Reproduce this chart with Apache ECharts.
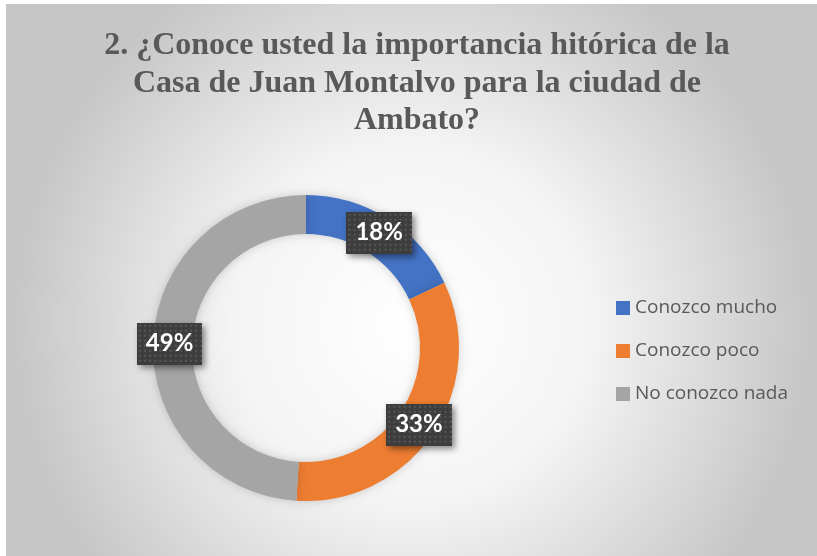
<!DOCTYPE html>
<html>
<head>
<meta charset="utf-8">
<script src="https://cdn.jsdelivr.net/npm/echarts@6/dist/echarts.min.js"></script>
<style>
  html, body { margin: 0; padding: 0; background: #fff; }
  #chart { width: 817px; height: 556px; }
</style>
</head>
<body>
<div id="chart"></div>
<script>
const categories = ['Conozco mucho', 'Conozco poco', 'No conozco nada']
const values = [18, 33, 49]
const colors = ['#4472C4', '#ED7D31', '#A5A5A5']

// dotted dark texture for the data labels
function dotPattern (w, h) {
  const c = document.createElement('canvas')
  c.width = w
  c.height = h
  const ctx = c.getContext('2d')
  ctx.fillStyle = '#3d3d3d'
  ctx.fillRect(0, 0, w, h)
  ctx.fillStyle = '#575757'
  for (let y = 2; y < h; y += 5) {
    for (let x = 2; x < w; x += 5) {
      ctx.fillRect(x, y, 2, 2)
    }
  }
  return c
}

const chart = echarts.init(document.getElementById('chart'))

const option = {
  backgroundColor: '#fff',
  graphic: [
    {
      type: 'rect',
      z: -10,
      silent: true,
      shape: { x: 6, y: 4, width: 811, height: 552 },
      style: {
        fill: {
          type: 'radial',
          x: 0.5,
          y: 0.58,
          r: 0.72,
          colorStops: [
            { offset: 0, color: '#ffffff' },
            { offset: 0.45, color: '#f4f4f4' },
            { offset: 1, color: '#c6c6c6' }
          ]
        }
      }
    }
  ],
  title: {
    text: '2. ¿Conoce usted la importancia hitórica de la\nCasa de Juan Montalvo para la ciudad de\nAmbato?',
    left: 412,
    textAlign: 'center',
    top: 22,
    textStyle: {
      fontFamily: 'Liberation Serif',
      fontWeight: 'bold',
      fontSize: 32,
      lineHeight: 37.5,
      color: '#595959',
      align: 'center'
    }
  },
  legend: {
    orient: 'vertical',
    left: 611,
    top: 293,
    icon: 'rect',
    itemWidth: 14,
    itemHeight: 14,
    itemGap: 23,
    data: categories,
    textStyle: {
      fontFamily: 'Open Sans',
      fontSize: 19,
      lineHeight: 20,
      color: '#595959'
    }
  },
  series: [
    {
      type: 'pie',
      center: [306, 348],
      radius: [114, 153],
      startAngle: 90,
      clockwise: true,
      avoidLabelOverlap: false,
      data: categories.map((name, i) => ({
        name,
        value: values[i],
        itemStyle: { color: colors[i] }
      })),
      itemStyle: {
        shadowBlur: 10,
        shadowColor: 'rgba(0,0,0,0.18)'
      },
      label: {
        show: true,
        position: 'inside',
        formatter: '{d}%',
        color: '#fff',
        fontFamily: 'Lato',
        fontWeight: 'bold',
        fontSize: 24,
        padding: [9, 9, 9, 9],
        backgroundColor: { image: dotPattern(64, 42) },
        shadowColor: 'rgba(0,0,0,0.45)',
        shadowBlur: 6,
        shadowOffsetX: 3,
        shadowOffsetY: 3
      },
      labelLine: { show: false },
      emphasis: { scale: false }
    }
  ]
}

chart.setOption(option)
</script>
</body>
</html>
